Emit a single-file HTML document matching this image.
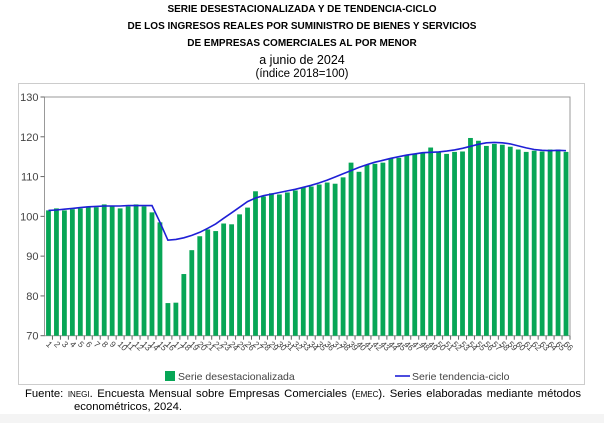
<!DOCTYPE html>
<html><head><meta charset="utf-8"><style>
body{margin:0;width:604px;height:423px;background:#fff;font-family:"Liberation Sans",sans-serif;position:relative;overflow:hidden}
.t{position:absolute;left:0;width:604px;text-align:center;color:#000}
.b{font-weight:bold;font-size:10px}
</style></head><body>
<div class="t b" style="top:4px">SERIE DESESTACIONALIZADA Y DE TENDENCIA-CICLO</div>
<div class="t b" style="top:21px">DE LOS INGRESOS REALES POR SUMINISTRO DE BIENES Y SERVICIOS</div>
<div class="t b" style="top:38px">DE EMPRESAS COMERCIALES AL POR MENOR</div>
<div class="t" style="top:53px;font-size:12.5px">a junio de 2024</div>
<div class="t" style="top:68px;font-size:11.5px">(índice 2018=100)</div>
<div style="position:absolute;left:0;top:414px;width:604px;height:9px;background:#f4f4f4"></div>
<svg id="s" width="604" height="423" style="position:absolute;left:0;top:0" xmlns="http://www.w3.org/2000/svg"></svg>
<div style="position:absolute;left:25px;top:388px;font-size:11.3px;line-height:13px;width:556px;text-align:justify;text-align-last:justify">Fuente: <span style="font-size:8px">INEGI</span>. Encuesta Mensual sobre Empresas Comerciales (<span style="font-size:8px">EMEC</span>). Series elaboradas mediante métodos</div>
<div style="position:absolute;left:74px;top:401px;font-size:11.3px;line-height:13px">econométricos, 2024.</div>
<script>
var v=[101.5,102,101.5,101.8,102,102.5,102.3,103,102.5,102,102.5,103,102.5,101,98.5,78.2,78.3,85.5,91.5,95,96.7,96.3,98.2,98,100.5,102.2,106.3,105,105.8,105.5,106,106.5,107.3,107.5,108,108.5,108.2,109.8,113.5,111.2,113,113.2,113.5,114.6,114.7,115.3,115.7,116,117.3,116.3,115.7,116.2,116.3,119.7,119,117.7,118.2,118,117.5,116.8,116.2,116.5,116.3,116.8,116.8,116.2];
var tr=[101.5,101.6,101.8,102,102.2,102.4,102.5,102.6,102.6,102.6,102.7,102.7,102.7,102.7,98.5,94,94.2,94.6,95.2,96,97,98.1,99.5,100.9,102.3,103.7,104.6,105.2,105.6,106,106.4,106.8,107.3,107.8,108.4,109.1,109.9,110.7,111.5,112.3,113,113.6,114.1,114.6,115,115.4,115.7,116,116.1,116.2,116.4,116.7,117.1,117.6,118.1,118.5,118.6,118.5,118.2,117.7,117.2,116.8,116.6,116.5,116.6,116.5];
var L=44.5,R=570,T=97,B=335.7,n=66,w=(R-L)/n;
function y(val){return B-(val-70)*(B-T)/60}
var h='<rect x="18.5" y="83.5" width="566" height="301" fill="none" stroke="#ccc"/>';
h+='<rect x="'+L+'" y="'+T+'" width="'+(R-L)+'" height="'+(B-T)+'" fill="none" stroke="#999"/>';
for(var k=70;k<=130;k+=10){var yy=y(k);h+='<line x1="'+(L-4)+'" x2="'+L+'" y1="'+yy+'" y2="'+yy+'" stroke="#666"/><text x="'+(L-6)+'" y="'+(yy+4)+'" font-size="11" fill="#444" text-anchor="end">'+k+'</text>';}
var pts=[];
for(var i=0;i<n;i++){var cx=L+w*(i+0.5);h+='<rect x="'+(cx-2.4)+'" y="'+y(v[i])+'" width="4.8" height="'+(B-y(v[i]))+'" fill="#07a656"/>';
h+='<line x1="'+(L+w*(i+1))+'" x2="'+(L+w*(i+1))+'" y1="'+B+'" y2="'+(B+4)+'" stroke="#666"/>';
h+='<text transform="translate('+(cx-3)+','+(B+9)+') rotate(45)" font-size="8.5" fill="#444" text-anchor="start">'+(i+1)+'</text>';
pts.push(cx.toFixed(1)+','+y(tr[i]).toFixed(1));}
h+='<polyline points="'+pts.join(' ')+'" fill="none" stroke="#1f1fd6" stroke-width="1.6"/>';
h+='<rect x="165" y="371" width="10" height="10" fill="#07a656"/><text x="178" y="380" font-size="10.5" fill="#444">Serie desestacionalizada</text>';
h+='<line x1="395" x2="410" y1="376" y2="376" stroke="#1f1fd6" stroke-width="1.6"/><text x="412" y="380" font-size="10.5" fill="#444">Serie tendencia-ciclo</text>';
document.getElementById('s').innerHTML=h;
</script>
</body></html>
